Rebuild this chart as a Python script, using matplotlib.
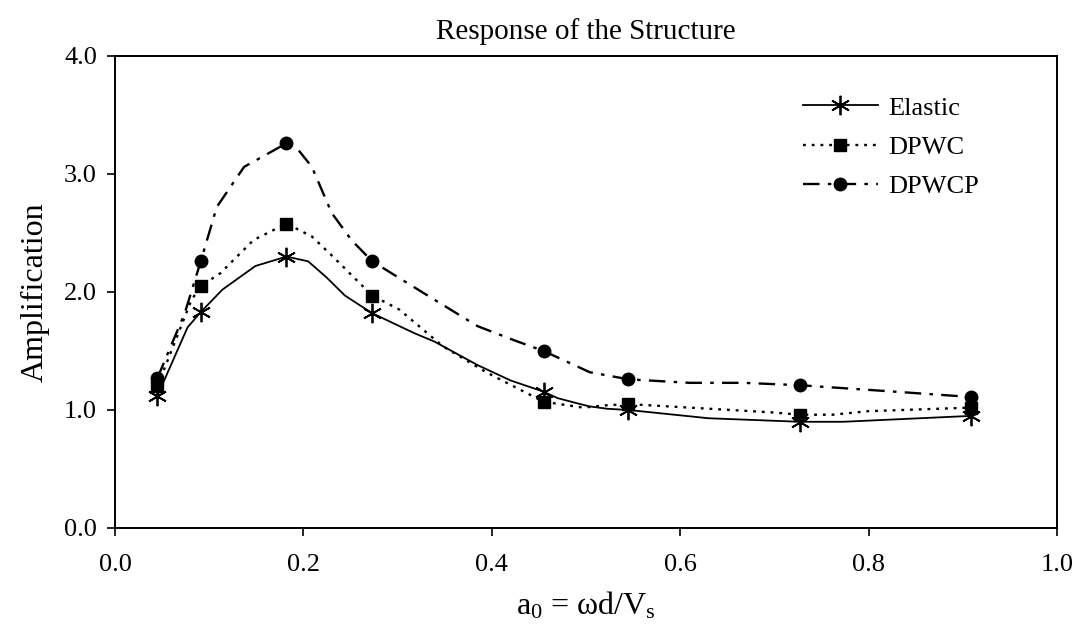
import matplotlib
matplotlib.use('Agg')
import matplotlib.pyplot as plt

plt.rcParams['font.family'] = ['Liberation Serif', 'DejaVu Serif']
plt.rcParams['mathtext.fontset'] = 'custom'
plt.rcParams['mathtext.rm'] = 'Liberation Serif'

# ── data (dense curve points, markers at selected ones) ──
x_elastic = [0.045, 0.077, 0.091, 0.114, 0.149, 0.182, 0.205, 0.225, 0.244, 0.273,
             0.318, 0.339, 0.385, 0.420, 0.455, 0.470, 0.489, 0.504, 0.523, 0.545,
             0.630, 0.727, 0.773, 0.909]
y_elastic = [1.12, 1.70, 1.83, 2.02, 2.22, 2.30, 2.26, 2.12, 1.97, 1.82,
             1.65, 1.58, 1.38, 1.25, 1.155, 1.10, 1.06, 1.03, 1.01, 1.00,
             0.93, 0.90, 0.90, 0.95]
mk_elastic = [0, 2, 5, 9, 14, 19, 21, 23]

x_dpwc = [0.045, 0.081, 0.091, 0.112, 0.147, 0.182, 0.209, 0.230, 0.273, 0.302,
          0.348, 0.394, 0.455, 0.497, 0.522, 0.545, 0.610, 0.697, 0.727, 0.762,
          0.800, 0.909]
y_dpwc = [1.20, 1.93, 2.05, 2.16, 2.44, 2.58, 2.47, 2.31, 1.97, 1.85,
          1.54, 1.32, 1.07, 1.02, 1.04, 1.05, 1.02, 0.98, 0.96, 0.96,
          0.99, 1.02]
mk_dpwc = [0, 2, 5, 8, 12, 15, 18, 21]

x_dpwcp = [0.045, 0.074, 0.091, 0.108, 0.137, 0.182, 0.195, 0.209, 0.230, 0.251,
           0.273, 0.340, 0.385, 0.424, 0.455, 0.504, 0.545, 0.610, 0.667, 0.727,
           0.819, 0.909]
y_dpwcp = [1.27, 1.82, 2.26, 2.72, 3.06, 3.26, 3.20, 3.06, 2.67, 2.44,
           2.26, 1.93, 1.71, 1.59, 1.50, 1.32, 1.26, 1.23, 1.23, 1.21,
           1.16, 1.11]
mk_dpwcp = [0, 2, 5, 10, 14, 16, 19, 21]

x_ticks = [0.0, 0.2, 0.4, 0.6, 0.8, 1.0]
y_ticks = [0.0, 1.0, 2.0, 3.0, 4.0]

fig = plt.figure(figsize=(10.78, 6.29), dpi=100)
ax = fig.add_axes([0.1067, 0.1606, 0.8738, 0.7504])

ax.plot(x_elastic, y_elastic, color='black', lw=1.3, ls='-',
        marker=(6, 2, 0), ms=14, mew=1.3, markevery=mk_elastic, label='Elastic')
ax.plot(x_dpwc, y_dpwc, color='black', lw=1.7, ls=(0, (1.2, 2.5)),
        marker='s', ms=8.5, markevery=mk_dpwc, label='DPWC')
ax.plot(x_dpwcp, y_dpwcp, color='black', lw=1.7, ls=(0, (7, 3.5, 1.5, 3.5)),
        marker='o', ms=9, markevery=mk_dpwcp, label='DPWCP')

ax.set_xlim(0, 1.0)
ax.set_ylim(0, 4.0)
ax.set_xticks(x_ticks)
ax.set_yticks(y_ticks)
ax.set_xticklabels([f'{v:.1f}' for v in x_ticks])
ax.set_yticklabels([f'{v:.1f}' for v in y_ticks])
ax.tick_params(direction='out', length=6, width=1.2, labelsize=19)
ax.tick_params(axis='x', pad=13)
ax.tick_params(axis='y', pad=7)
for s in ax.spines.values():
    s.set_linewidth(1.4)

ax.set_xlabel(r'$\mathregular{a_0}$ = ωd/$\mathregular{V_s}$', fontsize=23, labelpad=10)
ax.set_ylabel('Amplification', fontsize=23, labelpad=10)
ax.set_title('Response of the Structure', fontsize=21, pad=12)

ax.legend(loc='upper left', bbox_to_anchor=(0.705, 0.965), frameon=False,
          fontsize=19, handlelength=2.85, handletextpad=0.4, labelspacing=0.6,
          numpoints=1)

fig.savefig('out.png', dpi=100)
